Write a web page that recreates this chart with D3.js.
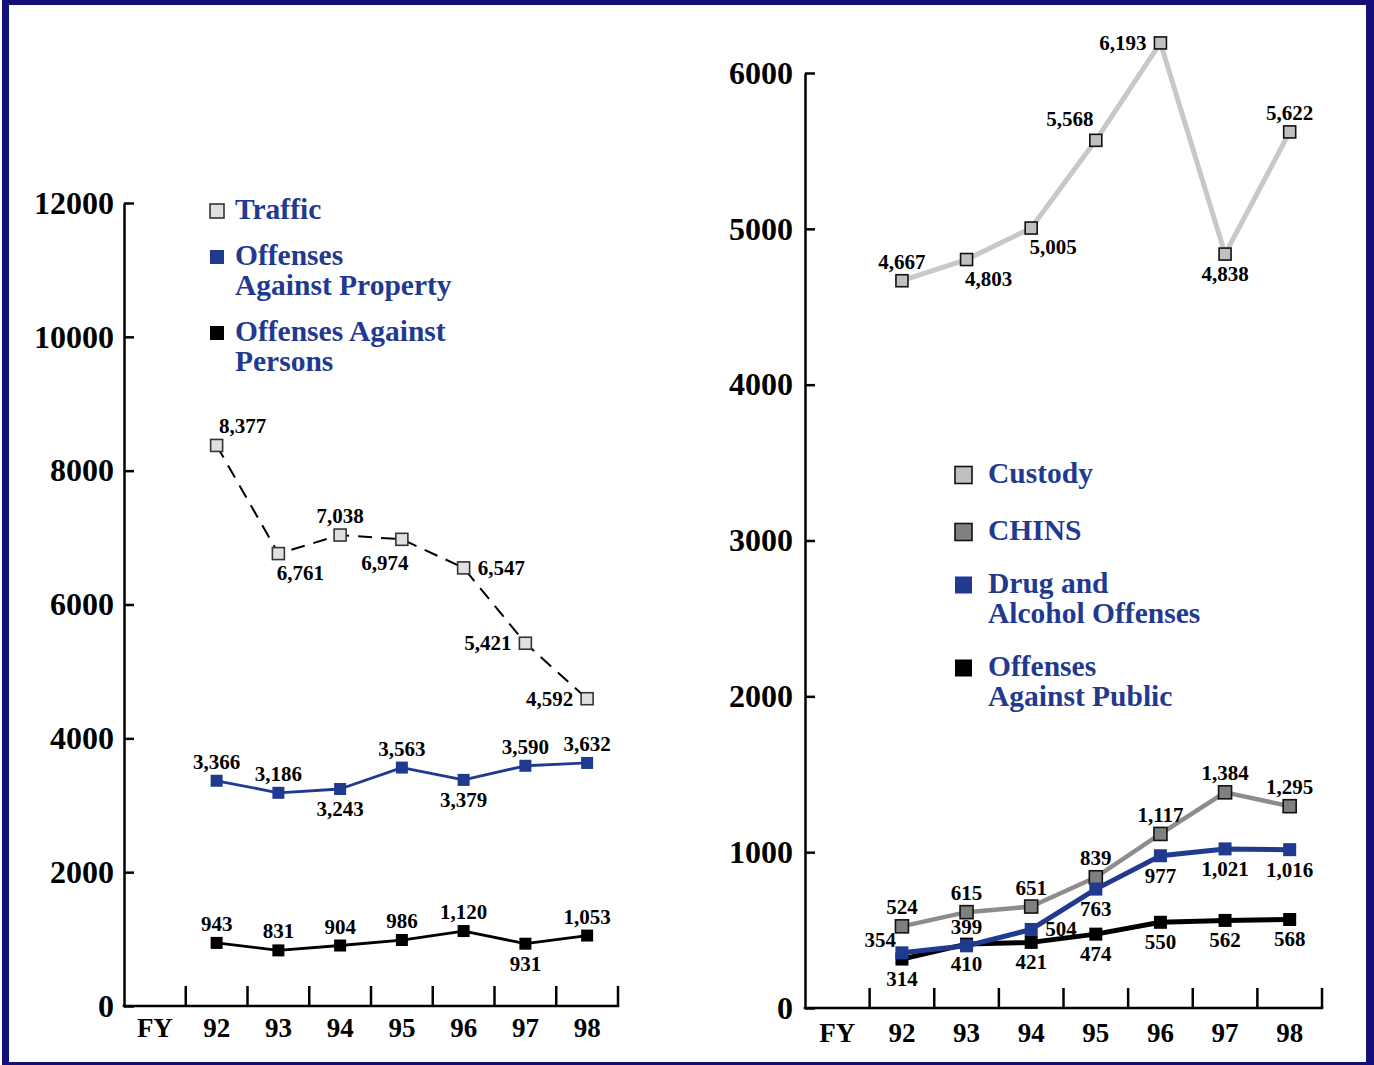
<!DOCTYPE html>
<html>
<head>
<meta charset="utf-8">
<script src="https://cdn.jsdelivr.net/npm/d3@7"></script>
<style>
  html, body { margin: 0; padding: 0; background: #ffffff; }
  svg { display: block; }
  text { font-family: "Liberation Serif", "Times New Roman", Times, serif; font-weight: bold; }
</style>
</head>
<body>
<script>
// Fiscal years on the horizontal axes (first slot holds the "FY" caption)
const years = ["92", "93", "94", "95", "96", "97", "98"];
const xCategories = ["FY", "92", "93", "94", "95", "96", "97", "98"];

// Left panel series
const trafficValues  = [8377, 6761, 7038, 6974, 6547, 5421, 4592];
const propertyValues = [3366, 3186, 3243, 3563, 3379, 3590, 3632];
const personsValues  = [943, 831, 904, 986, 1120, 931, 1053];

// Right panel series
const custodyValues = [4667, 4803, 5005, 5568, 6193, 4838, 5622];
const chinsValues   = [524, 615, 651, 839, 1117, 1384, 1295];
const drugValues    = [354, 399, 504, 763, 977, 1021, 1016];
const publicValues  = [314, 410, 421, 474, 550, 562, 568];

// Axis tick values
const leftTicks  = [0, 2000, 4000, 6000, 8000, 10000, 12000];
const rightTicks = [0, 1000, 2000, 3000, 4000, 5000, 6000];

// Where each value label sits relative to its point
const trafficLabelPos  = ["aboveRight", "belowRight", "above", "belowLeft", "right", "left", "left"];
const propertyLabelPos = ["above", "above", "below", "above", "below", "above", "above"];
const personsLabelPos  = ["above", "above", "above", "above", "above", "below", "above"];
const custodyLabelPos  = ["above", "belowRight", "belowRight", "aboveLeft", "left", "below", "above"];
const chinsLabelPos    = ["above", "above", "above", "above", "above", "above", "above"];
const drugLabelPos     = ["leftAbove", "above", "right", "below", "below", "below", "below"];
const publicLabelPos   = ["below", "below", "below", "below", "below", "below", "below"];

const W = 1374, H = 1065;
const NAVY = "#130f78";
const BLUE = "#1f3a8f";
const fmt = d3.format(",");

const labelOffsets = {
  above:      { dx: 0,   dy: -12, anchor: "middle" },
  below:      { dx: 0,   dy: 27,  anchor: "middle" },
  left:       { dx: -14, dy: 7,   anchor: "end" },
  right:      { dx: 14,  dy: 7,   anchor: "start" },
  aboveRight: { dx: 26,  dy: -12, anchor: "middle" },
  aboveLeft:  { dx: -26, dy: -14, anchor: "middle" },
  belowRight: { dx: 22,  dy: 26,  anchor: "middle" },
  belowLeft:  { dx: -17, dy: 31,  anchor: "middle" },
  leftAbove:  { dx: -6,  dy: -6,  anchor: "end" }
};

const svg = d3.select("body").append("svg")
  .attr("width", W).attr("height", H)
  .attr("viewBox", `0 0 ${W} ${H}`);

svg.append("rect").attr("width", W).attr("height", H).attr("fill", "#ffffff");

// Navy frame
const frame = svg.append("g").attr("fill", NAVY);
frame.append("rect").attr("x", 2).attr("y", 0).attr("width", W - 2).attr("height", 5);
frame.append("rect").attr("x", 2).attr("y", 0).attr("width", 7).attr("height", H);
frame.append("rect").attr("x", W - 8).attr("y", 0).attr("width", 8).attr("height", H);
frame.append("rect").attr("x", 2).attr("y", H - 3).attr("width", W - 2).attr("height", 3);

function buildPanel(cfg) {
  const g = svg.append("g");
  const x = d3.scaleBand().domain(xCategories).range([cfg.x0, cfg.x1]).padding(0);
  const y = d3.scaleLinear().domain([0, cfg.yMax]).range([cfg.y0, cfg.yTop]);
  const cx = yr => x(yr) + x.bandwidth() / 2;

  // Y axis with inward ticks
  const yAxis = g.append("g")
    .attr("transform", `translate(${cfg.x0},0)`)
    .call(d3.axisLeft(y).tickValues(cfg.ticks).tickFormat(d3.format("d"))
      .tickSize(-10).tickSizeOuter(0).tickPadding(cfg.tickPad));
  yAxis.select(".domain").attr("stroke", "#000").attr("stroke-width", 2.5);
  yAxis.selectAll(".tick line").attr("stroke", "#000").attr("stroke-width", 2.5);
  yAxis.selectAll(".tick text")
    .attr("fill", "#000").style("font-size", cfg.yFont + "px")
    .style("font-family", "'Liberation Serif', 'Times New Roman', serif")
    .style("font-weight", "bold");

  // X axis: category labels plus tick marks on the band boundaries
  const xAxis = g.append("g")
    .attr("transform", `translate(0,${cfg.y0})`)
    .call(d3.axisBottom(x).tickSize(0));
  xAxis.select(".domain").remove();
  xAxis.selectAll(".tick text")
    .attr("y", cfg.xLabelY).attr("dy", 0)
    .attr("fill", "#000").style("font-size", "27px")
    .style("font-family", "'Liberation Serif', 'Times New Roman', serif")
    .style("font-weight", "bold");
  g.append("line")
    .attr("x1", cfg.x0 - 1.25).attr("x2", cfg.x1 + 1.25)
    .attr("y1", cfg.y0).attr("y2", cfg.y0)
    .attr("stroke", "#000").attr("stroke-width", 2.5);
  g.append("g").selectAll("line")
    .data(xCategories)
    .join("line")
    .attr("x1", c => x(c) + x.bandwidth()).attr("x2", c => x(c) + x.bandwidth())
    .attr("y1", cfg.y0).attr("y2", cfg.y0 - 20)
    .attr("stroke", "#000").attr("stroke-width", 2.5);

  // Series: line, square markers, value labels
  cfg.series.forEach(s => {
    const pts = s.values.map((v, i) => ({ yr: years[i], v, pos: s.labels[i] }));
    const line = d3.line().x(d => cx(d.yr)).y(d => y(d.v));
    g.append("path")
      .datum(pts)
      .attr("d", line)
      .attr("fill", "none")
      .attr("stroke", s.lineColor)
      .attr("stroke-width", s.lineWidth)
      .attr("stroke-dasharray", s.dash || null)
      .attr("stroke-linejoin", "round");
    g.append("g").selectAll("rect")
      .data(pts)
      .join("rect")
      .attr("x", d => cx(d.yr) - s.size / 2)
      .attr("y", d => y(d.v) - s.size / 2)
      .attr("width", s.size).attr("height", s.size)
      .attr("fill", s.fill)
      .attr("stroke", s.stroke || "none")
      .attr("stroke-width", s.stroke ? 1.6 : 0);
    g.append("g").selectAll("text")
      .data(pts)
      .join("text")
      .attr("x", d => cx(d.yr) + labelOffsets[d.pos].dx)
      .attr("y", d => y(d.v) + labelOffsets[d.pos].dy)
      .attr("text-anchor", d => labelOffsets[d.pos].anchor)
      .attr("fill", "#000")
      .style("font-size", "21px")
      .text(d => fmt(d.v));
  });

  // Legend
  const lg = g.append("g");
  cfg.legend.forEach(item => {
    lg.append("rect")
      .attr("x", cfg.legendX).attr("y", item.y - cfg.legendBox / 2)
      .attr("width", cfg.legendBox).attr("height", cfg.legendBox)
      .attr("fill", item.fill)
      .attr("stroke", item.stroke || "none")
      .attr("stroke-width", item.stroke ? 1.6 : 0);
    item.lines.forEach((ln, k) => {
      lg.append("text")
        .attr("x", cfg.legendTextX)
        .attr("y", item.y + 8 + k * cfg.legendLine)
        .attr("fill", BLUE)
        .style("font-size", cfg.legendFont + "px")
        .text(ln);
    });
  });
}

// Left panel: Traffic, property and person offenses
buildPanel({
  x0: 124, x1: 618, y0: 1006, yTop: 203, yMax: 12000,
  ticks: leftTicks, tickPad: 10, yFont: 32, xLabelY: 31,
  series: [
    { values: trafficValues, labels: trafficLabelPos, lineColor: "#000", lineWidth: 2, dash: "14,9",
      size: 12, fill: "#e0e0e0", stroke: "#333" },
    { values: propertyValues, labels: propertyLabelPos, lineColor: BLUE, lineWidth: 2.8,
      size: 12, fill: BLUE },
    { values: personsValues, labels: personsLabelPos, lineColor: "#000", lineWidth: 2.8,
      size: 12, fill: "#000" }
  ],
  legendX: 210, legendTextX: 235, legendBox: 14, legendLine: 30, legendFont: 29.5,
  legend: [
    { y: 211, fill: "#e0e0e0", stroke: "#333", lines: ["Traffic"] },
    { y: 257, fill: BLUE, lines: ["Offenses", "Against Property"] },
    { y: 333, fill: "#000", lines: ["Offenses Against", "Persons"] }
  ]
});

// Right panel: Custody, CHINS, drug and alcohol, public offenses
buildPanel({
  x0: 805, x1: 1322, y0: 1008, yTop: 73, yMax: 6000,
  ticks: rightTicks, tickPad: 12, yFont: 32, xLabelY: 34,
  series: [
    { values: custodyValues, labels: custodyLabelPos, lineColor: "#c8c8c8", lineWidth: 5,
      size: 12, fill: "#c0c0c0", stroke: "#111" },
    { values: chinsValues, labels: chinsLabelPos, lineColor: "#8c8c8c", lineWidth: 4.5,
      size: 13, fill: "#808080", stroke: "#111" },
    { values: publicValues, labels: publicLabelPos, lineColor: "#000", lineWidth: 5,
      size: 13, fill: "#000" },
    { values: drugValues, labels: drugLabelPos, lineColor: BLUE, lineWidth: 5,
      size: 13, fill: BLUE }
  ],
  legendX: 955, legendTextX: 988, legendBox: 17, legendLine: 30, legendFont: 29.5,
  legend: [
    { y: 475, fill: "#c0c0c0", stroke: "#111", lines: ["Custody"] },
    { y: 532, fill: "#808080", stroke: "#111", lines: ["CHINS"] },
    { y: 585, fill: BLUE, lines: ["Drug and", "Alcohol Offenses"] },
    { y: 668, fill: "#000", lines: ["Offenses", "Against Public"] }
  ]
});
</script>
</body>
</html>
